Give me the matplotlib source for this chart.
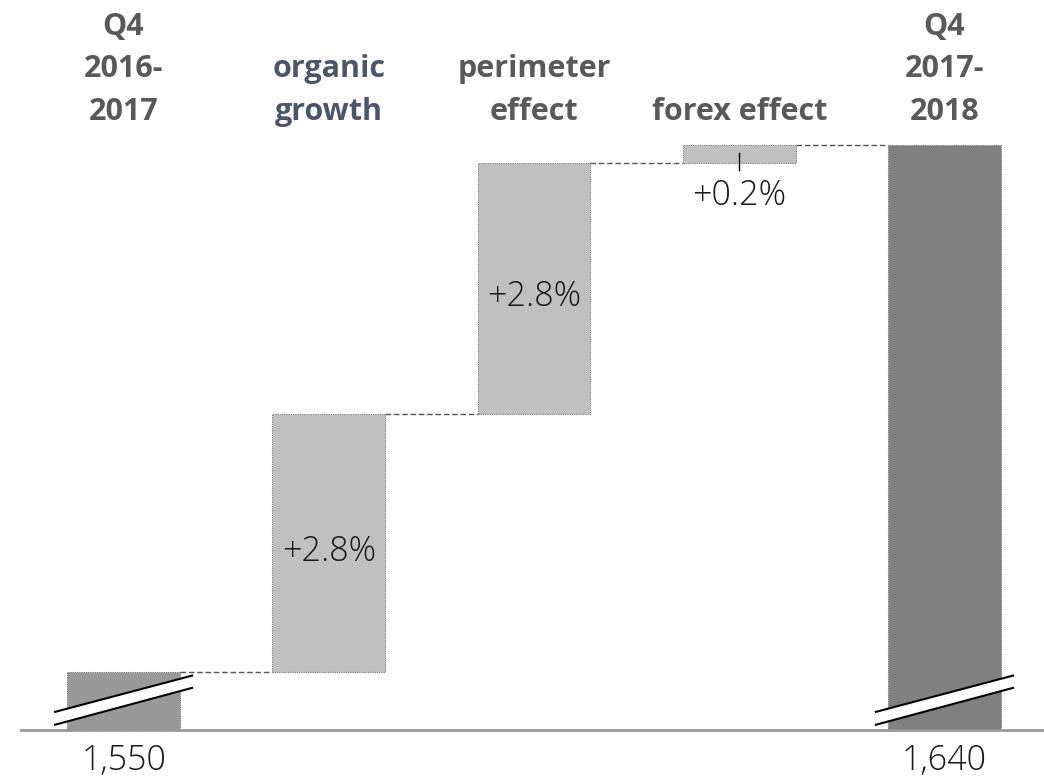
import matplotlib
matplotlib.use("Agg")
import matplotlib.pyplot as plt

# Data
categories = ["Q4\n2016-\n2017", "organic\ngrowth", "perimeter\neffect", "forex effect", "Q4\n2017-\n2018"]
start_value = 1550
end_value = 1640
deltas = [44, 43, 3]
delta_labels = ["+2.8%", "+2.8%", "+0.2%"]
total_labels = ["1,550", "1,640"]

axis_floor = 1540

fig = plt.figure(figsize=(10.44, 7.8), dpi=100)
ax = fig.add_axes([21 / 1044, 50 / 780, 1023 / 1044, 585 / 780])
ax.set_xlim(-0.5, 4.485)
ax.set_ylim(axis_floor, end_value)
ax.axis("off")

width = 0.55
edge = dict(edgecolor="#7a7a7a", linewidth=0.8, linestyle=(0, (1, 1)))

# totals
ax.bar(0, start_value - axis_floor, bottom=axis_floor, width=width, color="#999999", **edge)
ax.bar(4, end_value - axis_floor, bottom=axis_floor, width=width, color="#808080", **edge)

# steps
level = start_value
tops = [start_value]
for i, d in enumerate(deltas):
    ax.bar(i + 1, d, bottom=level, width=width, color="#c0c0c0", **edge)
    level += d
    tops.append(level)

# connectors
for i, t in enumerate(tops):
    ax.plot([i + width / 2, i + 1 - width / 2], [t, t], color="#555555",
            linestyle=(0, (4, 2)), linewidth=1, clip_on=False)

# baseline
ax.plot([-0.5, 4.485], [axis_floor, axis_floor], color="#999999", linewidth=2, clip_on=False)

# axis break marks
for x in [0, 4]:
    x0, x1 = x - 0.334, x + 0.334
    ax.fill([x0, x1, x1, x0], [axis_floor + 3.1, axis_floor + 9.3, axis_floor + 7.2, axis_floor + 0.9],
            color="white", zorder=5, clip_on=False)
    ax.plot([x0, x1], [axis_floor + 3.1, axis_floor + 9.3], color="black", lw=1.5, zorder=6, clip_on=False)
    ax.plot([x0, x1], [axis_floor + 0.9, axis_floor + 7.2], color="black", lw=1.5, zorder=6, clip_on=False)

# value labels
light = dict(family="Open Sans", fontweight="light", fontsize=24.5, color="#1a1a1a")
ax.text(1, start_value + deltas[0] / 2 - 1.5, delta_labels[0], ha="center", va="center", **light)
ax.text(2, start_value + deltas[0] + deltas[1] / 2 - 1.5, delta_labels[1], ha="center", va="center", **light)
ax.plot([3, 3], [end_value - deltas[2] - 1.2, end_value - 1.3], color="black", lw=1)
ax.text(3, end_value - deltas[2] - 5.6, delta_labels[2], ha="center", va="center", **light)

ax.text(0, axis_floor - 5.2, total_labels[0], ha="center", va="center", **light)
ax.text(4, axis_floor - 5.2, total_labels[1], ha="center", va="center", **light)

# headers
header_colors = ["#595959", "#4d5668", "#595959", "#595959", "#595959"]
for i, c in enumerate(categories):
    fig.text((123.5 + i * 205.25) / 1044, 1 - 127 / 780, c, ha="center", va="bottom",
             family="Open Sans", fontweight="bold", fontsize=22, color=header_colors[i],
             linespacing=1.55)

fig.savefig("out.png", dpi=100)
